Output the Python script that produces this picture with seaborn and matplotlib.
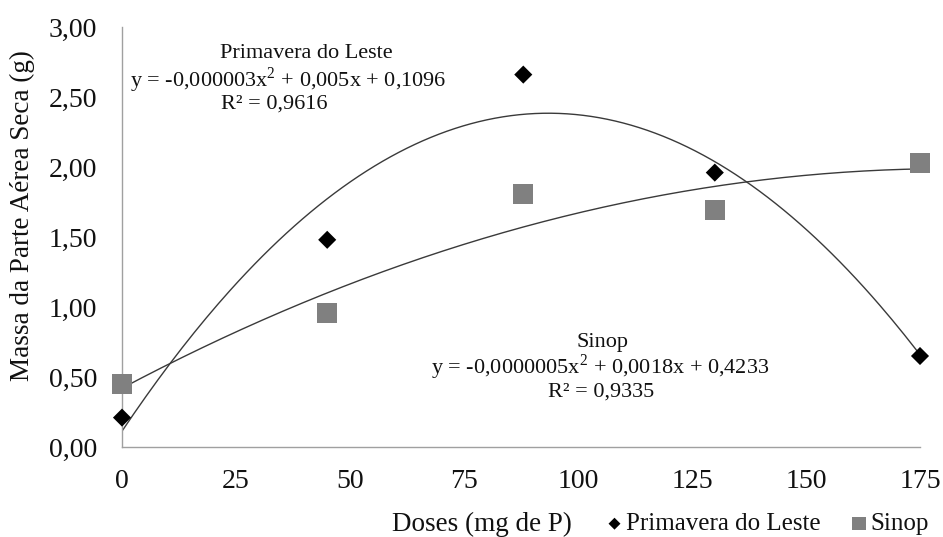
import numpy as np
import pandas as pd
import matplotlib
matplotlib.use("Agg")
import matplotlib.pyplot as plt
import seaborn as sns
from matplotlib.ticker import FuncFormatter

# Doses of phosphorus (mg de P)
doses = [0, 45, 88, 130, 175]
# Shoot dry mass (g) per location
primavera = [0.21, 1.48, 2.66, 1.96, 0.65]
sinop = [0.45, 0.96, 1.81, 1.69, 2.03]

series_names = ["Primavera do Leste", "Sinop"]
x_ticks = [0, 25, 50, 75, 100, 125, 150, 175]
y_ticks = [0.0, 0.5, 1.0, 1.5, 2.0, 2.5, 3.0]

eq_primavera = ["Primavera do Leste",
                "y = -0,000003x$^{2}$ + 0,005x + 0,1096",
                "R² = 0,9616"]
eq_sinop = ["Sinop",
            "y = -0,0000005x$^{2}$ + 0,0018x + 0,4233",
            "R² = 0,9335"]

sns.set_theme(style="white")
plt.rcParams["font.family"] = ["Liberation Serif", "DejaVu Serif"]
plt.rcParams["mathtext.fontset"] = "custom"
plt.rcParams["mathtext.rm"] = "Liberation Serif"

W, H = 943, 537


def fx(px):
    return px / W


def fy(py):
    return 1 - py / H


df = pd.DataFrame({
    "Doses": doses * 2,
    "Massa": primavera + sinop,
    "Local": [series_names[0]] * len(doses) + [series_names[1]] * len(doses),
})

# Quadratic trend lines fitted to each series
xs = np.linspace(0, 175, 200)
trend_rows = []
for name, vals in zip(series_names, [primavera, sinop]):
    coef = np.polyfit(doses, vals, 2)
    trend_rows.append(pd.DataFrame({"Doses": xs, "Massa": np.polyval(coef, xs), "Local": name}))
trend = pd.concat(trend_rows, ignore_index=True)

fig = plt.figure(figsize=(W / 100, H / 100), dpi=100)
ax = fig.add_axes([fx(122), fy(447), (920 - 122) / W, (447 - 27) / H])

sns.lineplot(data=trend, x="Doses", y="Massa", units="Local", estimator=None,
             color="#3a3a3a", linewidth=1.0, ax=ax, legend=False, zorder=2)

sns.scatterplot(data=df[df.Local == series_names[0]], x="Doses", y="Massa",
                marker="D", s=85, color="black", edgecolor="none", ax=ax,
                label=series_names[0], zorder=3, clip_on=False)
sns.scatterplot(data=df[df.Local == series_names[1]], x="Doses", y="Massa",
                marker="s", s=210, color="#808080", edgecolor="none", ax=ax,
                label=series_names[1], zorder=3, clip_on=False)

ax.set_xlim(0, 175)
ax.set_ylim(0, 3.0)
ax.set_xticks(x_ticks)
ax.set_yticks(y_ticks)
ax.yaxis.set_major_formatter(FuncFormatter(lambda v, p: f"{v:.2f}".replace(".", ",")))
ax.tick_params(axis="both", labelsize=20, length=0, colors="#111111")
ax.tick_params(axis="y", pad=18)
ax.tick_params(axis="x", pad=16)

for side in ["top", "right"]:
    ax.spines[side].set_visible(False)
for side in ["left", "bottom"]:
    ax.spines[side].set_color("#a0a0a0")
    ax.spines[side].set_linewidth(1.0)

ax.set_xlabel("")
ax.set_ylabel("")
fig.text(fx(22), fy(216), "Massa da Parte Aérea Seca (g)", rotation=90,
         ha="center", va="center", fontsize=19.5, color="#111111")

# Equation annotations
prim_pos = [(306, 53), (288, 80), (274, 104)]
sinop_pos = [(602, 342), (600, 367), (601, 392)]
for line, (px, py) in zip(eq_primavera, prim_pos):
    fig.text(fx(px), fy(py), line, ha="center", va="center", fontsize=16, color="#111111")
for line, (px, py) in zip(eq_sinop, sinop_pos):
    fig.text(fx(px), fy(py), line, ha="center", va="center", fontsize=16, color="#111111")

fig.text(fx(392), fy(524), "Doses (mg de P)", ha="left", va="center",
         fontsize=19.5, color="#111111")

leg = ax.legend(loc="center left", bbox_to_anchor=(fx(607), fy(524)),
                bbox_transform=fig.transFigure, ncol=2, frameon=False,
                fontsize=18, handletextpad=0.15, columnspacing=1.25,
                markerscale=0.66, borderpad=0, borderaxespad=0, handlelength=0.6)
for t in leg.get_texts():
    t.set_color("#111111")

fig.savefig("out.png", dpi=100)
